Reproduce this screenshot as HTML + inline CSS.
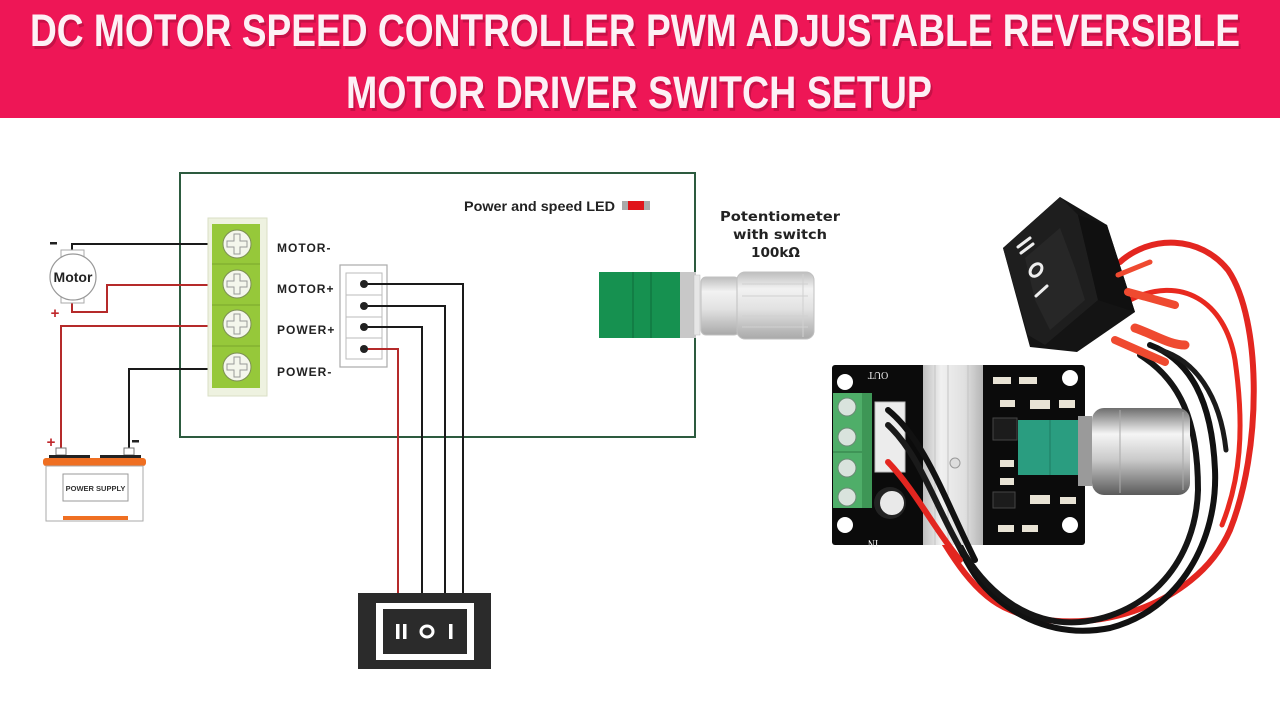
<!DOCTYPE html>
<html><head><meta charset="utf-8"><style>
html,body{margin:0;padding:0;background:#fff;}
svg{display:block;}
</style></head><body>
<svg width="1280" height="720" viewBox="0 0 1280 720" xmlns="http://www.w3.org/2000/svg">
<defs>
<linearGradient id="knob" x1="0" y1="0" x2="0" y2="1">
<stop offset="0" stop-color="#bdbdbd"/><stop offset="0.25" stop-color="#f2f2f2"/><stop offset="0.55" stop-color="#e2e2e2"/><stop offset="1" stop-color="#a9a9a9"/>
</linearGradient>
<linearGradient id="sknob" x1="0" y1="0" x2="0" y2="1">
<stop offset="0" stop-color="#6d6d6d"/><stop offset="0.3" stop-color="#f5f5f5"/><stop offset="0.6" stop-color="#c9c9c9"/><stop offset="1" stop-color="#5a5a5a"/>
</linearGradient>
<linearGradient id="heat" x1="0" y1="0" x2="1" y2="0">
<stop offset="0" stop-color="#bfbfbf"/><stop offset="0.3" stop-color="#f0f0f0"/><stop offset="0.7" stop-color="#e0e0e0"/><stop offset="1" stop-color="#b5b5b5"/>
</linearGradient>
</defs>

<!-- Header -->
<rect x="0" y="0" width="1280" height="118" fill="#EE1656"/>
<g font-family="'Liberation Sans Narrow','Liberation Sans',sans-serif" font-weight="bold" font-size="45">
<text x="32" y="49" textLength="1210" lengthAdjust="spacingAndGlyphs" fill="#a80e3c" opacity="0.55">DC MOTOR SPEED CONTROLLER PWM ADJUSTABLE REVERSIBLE</text>
<text x="30" y="46" textLength="1210" lengthAdjust="spacingAndGlyphs" fill="#fdf0f5">DC MOTOR SPEED CONTROLLER PWM ADJUSTABLE REVERSIBLE</text>
<text x="348" y="111" textLength="586" lengthAdjust="spacingAndGlyphs" fill="#a80e3c" opacity="0.55">MOTOR DRIVER SWITCH SETUP</text>
<text x="346" y="108" textLength="586" lengthAdjust="spacingAndGlyphs" fill="#fdf0f5">MOTOR DRIVER SWITCH SETUP</text>
</g>

<!-- Main box -->
<rect x="180" y="173" width="515" height="264" fill="none" stroke="#2d5b3f" stroke-width="2"/>

<!-- wires left -->
<g fill="none" stroke-width="2">
<polyline points="72,252 72,244 212,244" stroke="#1a1a1a"/>
<polyline points="72,302 72,312 107,312 107,285 212,285" stroke="#b52a2a"/>
<polyline points="212,326 61,326 61,449" stroke="#b52a2a"/>
<polyline points="212,369 129,369 129,449" stroke="#1a1a1a"/>
</g>

<!-- Motor -->
<rect x="61" y="250" width="23" height="8" fill="#fff" stroke="#aaa" stroke-width="1"/>
<rect x="61" y="295" width="23" height="8" fill="#fff" stroke="#aaa" stroke-width="1"/>
<circle cx="73" cy="277" r="23" fill="#fff" stroke="#999" stroke-width="1.2"/>
<text x="73" y="282" text-anchor="middle" font-family="'Liberation Sans',sans-serif" font-weight="bold" font-size="14" fill="#222">Motor</text>
<rect x="50" y="242" width="7" height="2.5" fill="#222"/>
<text x="55" y="318" text-anchor="middle" font-family="'Liberation Sans',sans-serif" font-weight="bold" font-size="15" fill="#c0282c">+</text>

<!-- Battery -->
<text x="51" y="447" text-anchor="middle" font-family="'Liberation Sans',sans-serif" font-weight="bold" font-size="15" fill="#c0282c">+</text>
<rect x="132" y="440" width="7" height="2.5" fill="#222"/>
<rect x="56" y="448" width="10" height="7" fill="#fff" stroke="#777" stroke-width="1"/>
<rect x="124" y="448" width="10" height="7" fill="#fff" stroke="#777" stroke-width="1"/>
<rect x="49" y="455" width="41" height="4" fill="#222"/>
<rect x="100" y="455" width="41" height="4" fill="#222"/>
<rect x="43" y="458" width="103" height="8" rx="3" fill="#ef6f22"/>
<rect x="46" y="466" width="97" height="55" fill="#fff" stroke="#aaa" stroke-width="1"/>
<rect x="63" y="474" width="65" height="27" fill="#fff" stroke="#999" stroke-width="1"/>
<text x="95.5" y="491" text-anchor="middle" font-family="'Liberation Sans',sans-serif" font-weight="bold" font-size="7.5" fill="#333">POWER SUPPLY</text>
<rect x="63" y="516" width="65" height="4" fill="#ef6f22"/>

<!-- Terminal block -->
<rect x="208" y="218" width="59" height="178" fill="#eef2e0" stroke="#d9dfc5" stroke-width="1"/>
<rect x="212" y="224" width="48" height="164" fill="#96c83a"/>
<g stroke="#7aa62c" stroke-width="1">
<line x1="212" y1="264" x2="260" y2="264"/><line x1="212" y1="305" x2="260" y2="305"/><line x1="212" y1="346" x2="260" y2="346"/>
</g>
<g fill="#f4f6ec" stroke="#7d8f55" stroke-width="1">
<circle cx="237" cy="244" r="14"/><circle cx="237" cy="284" r="14"/><circle cx="237" cy="324" r="14"/><circle cx="237" cy="367" r="14"/>
</g>
<g fill="none" stroke="#999" stroke-width="1">
<path d="M234,234 h6 v7 h7 v6 h-7 v7 h-6 v-7 h-7 v-6 h7z"/>
<path d="M234,274 h6 v7 h7 v6 h-7 v7 h-6 v-7 h-7 v-6 h7z"/>
<path d="M234,314 h6 v7 h7 v6 h-7 v7 h-6 v-7 h-7 v-6 h7z"/>
<path d="M234,357 h6 v7 h7 v6 h-7 v7 h-6 v-7 h-7 v-6 h7z"/>
</g>
<g font-family="'Liberation Sans',sans-serif" font-weight="bold" font-size="12" fill="#222" letter-spacing="1">
<text x="277" y="252">MOTOR-</text>
<text x="277" y="293">MOTOR+</text>
<text x="277" y="334">POWER+</text>
<text x="277" y="376">POWER-</text>
</g>

<!-- 4-pin connector -->
<rect x="340" y="265" width="47" height="102" fill="#fff" stroke="#aaa" stroke-width="1.2"/>
<rect x="346" y="273" width="36" height="86" fill="#fff" stroke="#bbb" stroke-width="1"/>
<g stroke="#bbb" stroke-width="1"><line x1="346" y1="295" x2="382" y2="295"/><line x1="346" y1="317" x2="382" y2="317"/><line x1="346" y1="338" x2="382" y2="338"/></g>
<g fill="none" stroke-width="2">
<polyline points="364,284 463,284 463,593" stroke="#1a1a1a"/>
<polyline points="364,306 445,306 445,593" stroke="#1a1a1a"/>
<polyline points="364,327 422,327 422,593" stroke="#1a1a1a"/>
<polyline points="364,349 398,349 398,593" stroke="#b52a2a"/>
</g>
<g fill="#222"><circle cx="364" cy="284" r="4"/><circle cx="364" cy="306" r="4"/><circle cx="364" cy="327" r="4"/><circle cx="364" cy="349" r="4"/></g>

<!-- bottom switch -->
<rect x="358" y="593" width="133" height="76" fill="#2b2b2b"/>
<rect x="376" y="603" width="98" height="57" fill="#fff"/>
<rect x="383" y="609" width="84" height="45" fill="#2b2b2b"/>
<rect x="396" y="624" width="3.5" height="15" fill="#fff"/>
<rect x="403" y="624" width="3.5" height="15" fill="#fff"/>
<ellipse cx="427" cy="631.5" rx="6" ry="5.5" fill="none" stroke="#fff" stroke-width="3"/>
<rect x="449" y="624" width="3.5" height="15" fill="#fff"/>

<!-- LED label -->
<text x="464" y="211" font-family="'Liberation Sans',sans-serif" font-weight="bold" font-size="14" fill="#222" textLength="151" lengthAdjust="spacingAndGlyphs">Power and speed LED</text>
<rect x="622" y="201" width="28" height="9" fill="#aaa"/>
<rect x="628" y="201" width="16" height="9" fill="#e0141a"/>

<!-- potentiometer label -->
<g font-family="'DejaVu Sans','Liberation Sans',sans-serif" font-weight="bold" font-size="13" fill="#222">
<text x="720" y="221" textLength="120" lengthAdjust="spacingAndGlyphs">Potentiometer</text>
<text x="733" y="239" textLength="94" lengthAdjust="spacingAndGlyphs">with switch</text>
<text x="751" y="257" textLength="49" lengthAdjust="spacingAndGlyphs">100kΩ</text>
</g>

<!-- potentiometer drawing -->
<rect x="599" y="272" width="81" height="66" fill="#169150"/>
<line x1="633" y1="272" x2="633" y2="338" stroke="#0e6b3a" stroke-width="1"/>
<line x1="651" y1="272" x2="651" y2="338" stroke="#0e6b3a" stroke-width="1"/>
<rect x="680" y="272" width="16" height="66" fill="#c8c8c8"/>
<rect x="694" y="275" width="6" height="60" fill="#e6e6e6" stroke="#bbb" stroke-width="0.5"/>
<rect x="701" y="277" width="38" height="58" rx="5" fill="url(#knob)" stroke="#c0c0c0" stroke-width="1"/>
<rect x="737" y="272" width="77" height="67" rx="8" fill="url(#knob)" stroke="#c0c0c0" stroke-width="1"/>
<g stroke="#d0d0d0" stroke-width="1"><line x1="742" y1="284" x2="808" y2="284"/><line x1="742" y1="296" x2="808" y2="296"/><line x1="742" y1="316" x2="808" y2="316"/><line x1="742" y1="327" x2="808" y2="327"/><line x1="803" y1="274" x2="803" y2="337"/></g>

<!-- Photo: wires behind board -->
<g fill="none" stroke-linecap="round">
<path d="M1130,300 C1180,275 1225,300 1235,360 C1245,430 1240,480 1222,525" stroke="#e8291f" stroke-width="5"/>
<path d="M1120,262 C1150,235 1200,235 1228,270 C1262,320 1262,450 1230,530 C1195,610 1080,640 1010,610 C960,590 935,520 895,462" stroke="#e32620" stroke-width="6"/>
<path d="M1150,345 C1190,360 1212,400 1215,470 C1218,540 1180,610 1110,628 C1050,640 1000,610 975,575 C945,530 935,470 888,410" stroke="#111" stroke-width="6"/>
<path d="M1140,355 C1180,380 1198,420 1198,490 C1196,560 1150,615 1080,622 C1030,626 990,595 965,555 C940,510 925,460 888,425" stroke="#151515" stroke-width="6"/>
<path d="M1160,350 C1195,360 1220,395 1226,450" stroke="#1b1b1b" stroke-width="5"/>
</g>

<!-- PCB -->
<rect x="832" y="365" width="253" height="180" rx="3" fill="#0b0b0b"/>
<g fill="#fff"><circle cx="845" cy="382" r="8"/><circle cx="1070" cy="378" r="8"/><circle cx="845" cy="525" r="8"/><circle cx="1070" cy="525" r="8"/></g>
<text x="878" y="372" font-family="'Liberation Serif',serif" font-size="10" fill="#eee" text-anchor="middle" transform="rotate(180 878 372)">OUT</text>
<text x="873" y="540" font-family="'Liberation Serif',serif" font-size="10" fill="#eee" text-anchor="middle" transform="rotate(180 873 540)">IN</text>
<rect x="833" y="393" width="39" height="115" fill="#4fae69"/>
<line x1="833" y1="452" x2="872" y2="452" stroke="#2f7a45" stroke-width="1"/>
<rect x="862" y="393" width="10" height="115" fill="#3e9656"/>
<g fill="#d9e3dd" stroke="#6a8b75" stroke-width="1"><circle cx="847" cy="407" r="9"/><circle cx="847" cy="437" r="9"/><circle cx="847" cy="468" r="9"/><circle cx="847" cy="497" r="9"/></g>
<rect x="875" y="402" width="30" height="70" fill="#ececec" stroke="#bbb" stroke-width="1"/>
<rect x="923" y="365" width="60" height="180" fill="url(#heat)"/>
<g stroke="#c4c4c4" stroke-width="1"><line x1="935" y1="365" x2="935" y2="545"/><line x1="948" y1="365" x2="948" y2="545"/><line x1="968" y1="365" x2="968" y2="545"/></g>
<circle cx="955" cy="463" r="5" fill="#ddd" stroke="#999"/>
<circle cx="890" cy="503" r="16" fill="#222"/>
<circle cx="892" cy="503" r="12" fill="#e9e9e9"/>
<!-- smd parts -->
<g fill="#e8e3d5"><rect x="993" y="377" width="18" height="7"/><rect x="1019" y="377" width="18" height="7"/><rect x="1000" y="400" width="15" height="7"/><rect x="1030" y="400" width="20" height="9"/><rect x="1059" y="400" width="16" height="8"/><rect x="1000" y="460" width="14" height="7"/><rect x="1000" y="478" width="14" height="7"/><rect x="1030" y="495" width="20" height="9"/><rect x="1060" y="497" width="16" height="7"/><rect x="998" y="525" width="16" height="7"/><rect x="1022" y="525" width="16" height="7"/></g>
<rect x="993" y="418" width="24" height="22" fill="#1c1c1c" stroke="#444"/>
<rect x="993" y="492" width="22" height="16" fill="#1c1c1c" stroke="#444"/>
<!-- board wires over -->
<g fill="none" stroke-linecap="round">
<path d="M888,462 C915,490 935,530 960,560" stroke="#e32620" stroke-width="6"/>
<path d="M888,410 C925,440 945,500 975,560" stroke="#111" stroke-width="6"/>
<path d="M888,425 C920,455 935,505 960,548" stroke="#1a1a1a" stroke-width="6"/>
</g>
<!-- photo pot -->
<rect x="1018" y="420" width="60" height="55" fill="#2a9d80"/>
<line x1="1050" y1="420" x2="1050" y2="475" stroke="#1d7a62" stroke-width="1"/>
<rect x="1078" y="416" width="14" height="70" fill="#9a9a9a"/>
<rect x="1092" y="408" width="98" height="87" rx="12" fill="url(#sknob)"/>
<g stroke="#aaa" stroke-width="1"><line x1="1120" y1="410" x2="1120" y2="493"/><line x1="1183" y1="412" x2="1183" y2="490"/></g>

<!-- photo rocker switch -->
<polygon points="1003,248 1060,197 1107,225 1135,312 1077,352 1030,347" fill="#141414"/>
<polygon points="1003,248 1060,197 1078,215 1098,300 1045,345 1028,335" fill="#1e1e1e"/>
<polygon points="1025,258 1060,228 1075,268 1085,300 1050,330 1035,300" fill="#272727"/>
<polygon points="1078,215 1107,225 1135,312 1098,300" fill="#101010"/>
<g stroke="#eee" stroke-width="3" stroke-linecap="round" fill="none">
<line x1="1018" y1="247" x2="1030" y2="238"/><line x1="1021" y1="253" x2="1033" y2="244"/>
<ellipse cx="1036" cy="270" rx="5" ry="7" transform="rotate(40 1036 270)"/>
<line x1="1036" y1="296" x2="1047" y2="286"/>
</g>
<g fill="none" stroke="#ef4a30" stroke-linecap="round">
<path d="M1118,275 L1150,262" stroke-width="5"/>
<path d="M1128,292 L1175,305" stroke-width="8"/>
<path d="M1135,328 C1155,335 1170,345 1185,345" stroke-width="9"/>
<path d="M1115,340 L1165,362" stroke-width="8"/>
</g>
</svg>
</body></html>
